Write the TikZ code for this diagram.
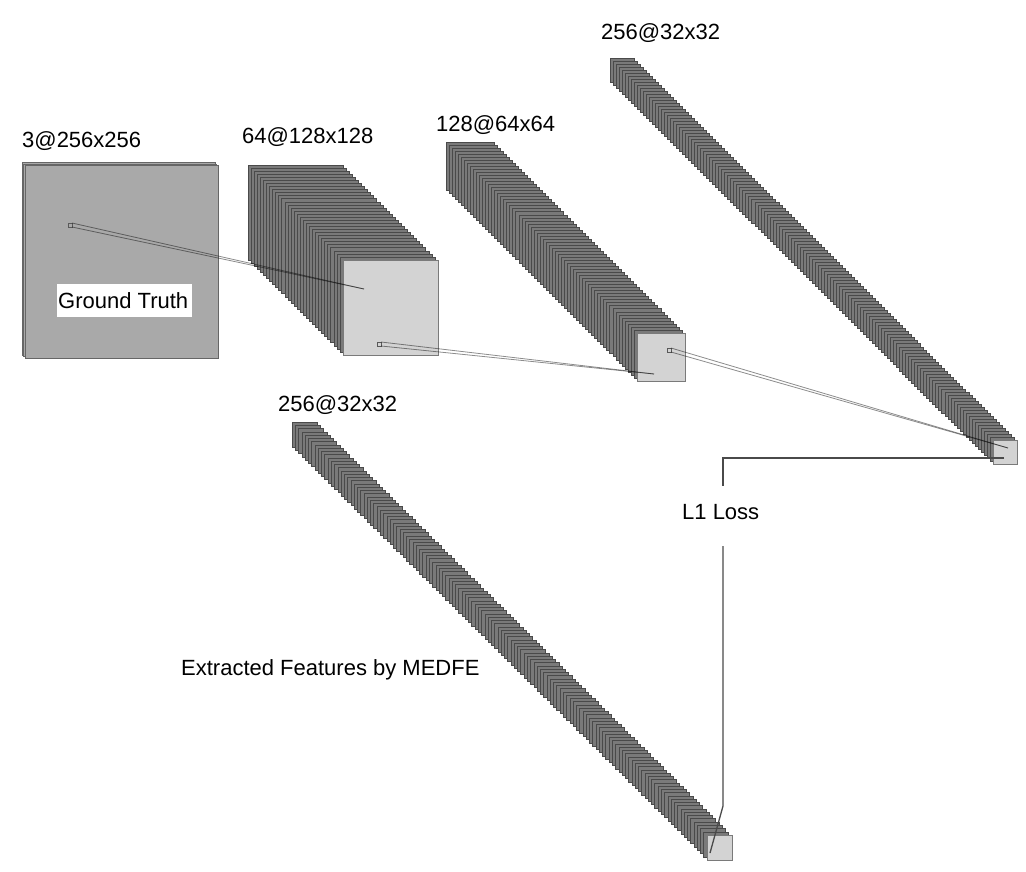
\documentclass[tikz,border=0pt]{standalone}
\usepackage{fontspec}
\setmainfont{Liberation Sans}
\definecolor{layerfill}{HTML}{7A7A7A}
\definecolor{layeredge}{HTML}{4A4A4A}
\definecolor{frontfill}{HTML}{D3D3D3}
\definecolor{frontedge}{HTML}{7A7A7A}
\definecolor{inputfill}{HTML}{A9A9A9}
\definecolor{inputedge}{HTML}{666666}
\definecolor{losscol}{HTML}{4A4A4A}
\tikzset{
  layer/.style={fill=layerfill, draw=layeredge, line width=0.5pt},
  frontface/.style={fill=frontfill, draw=frontedge, line width=1pt, inner sep=0pt, outer sep=0pt, anchor=north west},
  inputface/.style={fill=inputfill, draw=inputedge, line width=1pt, inner sep=0pt, outer sep=0pt, anchor=north west},
  lbl/.style={font=\fontsize{22}{26}\selectfont, inner sep=0pt, anchor=base west},
  convline/.style={draw=black, draw opacity=0.45, line width=0.8pt},
  lossline/.style={draw=losscol, line width=1.3pt},
  kernel/.style={draw=black!65, line width=0.8pt, fill=none, inner sep=0pt, outer sep=0pt, minimum size=4pt, anchor=north west}
}
% #1 bx, #2 by, #3 fx, #4 fy, #5 size, #6 number of layers minus one, #7 name of front face
\newcommand\drawstack[7]{%
  \pgfmathsetmacro\stepx{(#3-#1)/#6}%
  \pgfmathsetmacro\stepy{(#4-#2)/#6}%
  \foreach \i in {0,...,\the\numexpr#6-1\relax}{%
    \pgfmathsetmacro\px{#1+\stepx*\i}%
    \pgfmathsetmacro\py{#2+\stepy*\i}%
    \draw[layer] (\px,\py) rectangle ++(#5,#5);
  }%
  \node[frontface, minimum size=#5pt] (#7) at (#3,#4) {};
}
\begin{document}
\begin{tikzpicture}[x=1pt, y=-1pt]
\useasboundingbox (0,0) rectangle (1026,872);

% block 1 : input
\foreach \i in {0,1}{%
  \draw[inputface] (22+1.5*\i,163+1.5*\i) rectangle ++(193,192);
}
\node[inputface, minimum width=193pt, minimum height=192pt] (in) at (25,166) {};
\node[fill=white, inner sep=0pt, minimum width=135pt, minimum height=33pt, anchor=north west] (gtbox) at (57,284) {};
\node[lbl] (gt) at (58,308) {Ground Truth};

% feature stacks
\drawstack{248}{165}{343}{260}{95}{31}{f2}
\drawstack{446}{142}{637}{333}{48}{63}{f3}
\drawstack{610}{58}{993}{440}{24}{127}{f4}
\drawstack{292}{422}{707}{835}{25}{127}{f5}

% labels
\node[lbl] (t1) at (22,148) {3@256x256};
\node[lbl] (t2) at (242,144) {64@128x128};
\node[lbl] (t3) at (436,132) {128@64x64};
\node[lbl] (t4) at (601,40) {256@32x32};
\node[lbl] (t5) at (278,411) {256@32x32};
\node[lbl] (loss) at (682,519) {L1 Loss};
\node[lbl] (ext) at (181,675) {Extracted Features by MEDFE};

% convolution kernels and their projections
\node[kernel] (k1) at (68,223) {};
\node[kernel] (k2) at (377,342) {};
\node[kernel] (k3) at (667,348) {};
\coordinate (p2) at (364,289);
\coordinate (p3) at (654,374);
\coordinate (p4) at (1008,448);
\draw[convline] (k1.north east) -- (p2);
\draw[convline] (k1.south east) -- (p2);
\draw[convline] (k2.north east) -- (p3);
\draw[convline] (k2.south east) -- (p3);
\draw[convline] (k3.north east) -- (p4);
\draw[convline] (k3.south east) -- (p4);

% L1 loss connectors
\coordinate (la) at (1004,458);
\coordinate (lb) at (723,458);
\coordinate (lc) at (723,486);
\coordinate (ld) at (723,546);
\coordinate (le) at (723,806);
\coordinate (lf) at (710,853);
\draw[lossline] (la) -- (lb) -- (lc);
\draw[lossline] (ld) -- (le) -- (lf);
\end{tikzpicture}
\end{document}
